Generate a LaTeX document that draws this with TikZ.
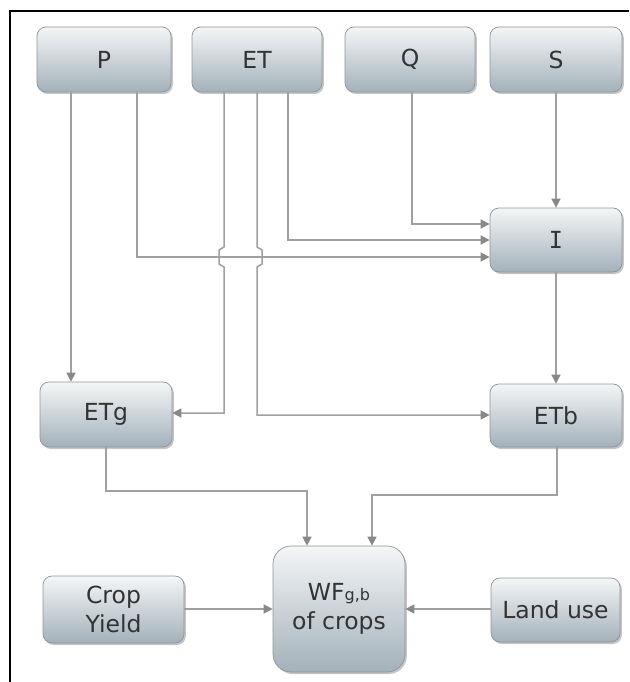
\documentclass[tikz,border=0pt]{standalone}
\usepackage{fontspec}
\setmainfont{DejaVu Sans}
\newfontfamily\monofnt{DejaVu Sans Mono}
\usetikzlibrary{arrows.meta,shadows,calc}
\definecolor{linegray}{HTML}{A0A0A0}
\definecolor{tipgray}{HTML}{888888}
\definecolor{boxtop}{HTML}{F4F6F7}
\definecolor{boxbot}{HTML}{A3B1BA}
\definecolor{boxedge}{HTML}{8E9498}
\definecolor{txtgray}{HTML}{333333}
\tikzset{
  box/.style={rectangle, rounded corners=9pt, draw=boxedge, line width=0.7pt,
    top color=boxtop, bottom color=boxbot, text=txtgray,
    font=\fontsize{23.5}{29}\selectfont, align=center, inner sep=0pt,
    drop shadow={shadow xshift=1.8pt, shadow yshift=-2pt, opacity=0.45}},
  conn/.style={draw=linegray, line width=1.5pt,
    -{Triangle[length=9pt,width=9pt,fill=tipgray,color=tipgray]}}
}
\begin{document}
\begin{tikzpicture}[x=1pt,y=-1pt]
\useasboundingbox (0,0) rectangle (629,682);
\fill[white] (0,0) rectangle (629,682);
\draw[line width=2pt] (10,682) -- (10,11) -- (629,11);

% nodes
\node[box, minimum width=134pt, minimum height=65pt] (P)  at (104,59.5) {P};
\node[box, minimum width=130pt, minimum height=65pt] (ET) at (257,59.5) {ET};
\node[box, minimum width=130pt, minimum height=65pt] (Q)  at (410,59.5) {Q};
\node[box, minimum width=132pt, minimum height=65pt] (S)  at (556,59.5) {S};
\node[box, minimum width=132pt, minimum height=64pt] (I)  at (556,240) {\monofnt I};
\node[box, minimum width=132pt, minimum height=65pt] (ETg) at (106,414.5) {ETg};
\node[box, minimum width=132pt, minimum height=63pt] (ETb) at (556,415.5) {ETb};
\node[box, minimum width=141pt, minimum height=67pt] (CY) at (113.5,609.5) {Crop\\Yield};
\node[box, rounded corners=18pt, minimum width=132pt, minimum height=126pt] (WF) at (339,609)
  {WF{\fontsize{16}{16}\selectfont g,b}\\of crops};
\node[box, minimum width=129pt, minimum height=64pt] (LU) at (555.5,610) {Land use};

% P connectors
\draw[conn] ([xshift=-33pt]P.south) -- (ETg.north -| 71,0);
\draw[conn] ([xshift=33pt]P.south) -- (137,257) -- (137,257 -| I.west);

% ET connectors
\draw[conn] ([xshift=31pt]ET.south) -- (288,240) -- (288,240 -| I.west);
\draw[conn] ([xshift=-33pt]ET.south) -- (224,247) -- (219,250) -- (219,264) -- (224,267)
  -- (224,413) -- (224,413 -| ETg.east);
\draw[conn] (ET.south) -- (257,247) -- (262,250) -- (262,264) -- (257,267)
  -- (257,415) -- (257,415 -| ETb.west);

% Q, S, I
\draw[conn] ([xshift=2pt]Q.south) -- (412,224) -- (412,224 -| I.west);
\draw[conn] (S.south) -- (I.north);
\draw[conn] (I.south) -- (ETb.north);

% to WF
\draw[conn] (ETg.south) -- (106,491) -- (307,491) -- (307,491 |- WF.north);
\draw[conn] ([xshift=1pt]ETb.south) -- (557,495) -- (372,495) -- (372,495 |- WF.north);
\draw[conn] (CY.east |- 0,609) -- (WF.west |- 0,609);
\draw[conn] (LU.west |- 0,609) -- (WF.east |- 0,609);
\end{tikzpicture}
\end{document}
